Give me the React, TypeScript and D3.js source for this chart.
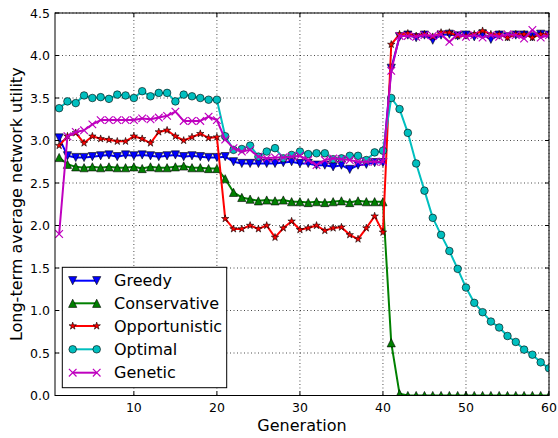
import React from "react";
import * as d3 from "d3";

const generations = d3.range(1, 61);

const greedy = [
  3.03,
  2.82, 2.80, 2.80, 2.81, 2.82, 2.83, 2.81, 2.83, 2.82, 2.83, 2.82, 2.81, 2.82, 2.83, 2.81, 2.82, 2.81, 2.80, 2.80,
  2.81, 2.75, 2.73, 2.73, 2.73, 2.73, 2.73, 2.74, 2.75, 2.73, 2.73, 2.71, 2.71, 2.69, 2.71, 2.66, 2.71, 2.72, 2.74, 2.74,
  3.85,
  4.22, 4.24, 4.21, 4.24, 4.18, 4.24, 4.25, 4.23, 4.24, 4.22, 4.25, 4.19, 4.24, 4.22, 4.24, 4.24, 4.22, 4.25, 4.24,
];

const conservative = [
  2.80,
  2.72, 2.69, 2.68, 2.69, 2.68, 2.69, 2.68, 2.68, 2.69, 2.67, 2.69, 2.68, 2.68, 2.69, 2.70, 2.68, 2.68, 2.67, 2.67,
  2.55, 2.39, 2.33, 2.31, 2.29, 2.30, 2.29, 2.30, 2.28, 2.28, 2.27, 2.28, 2.27, 2.28, 2.29, 2.27, 2.29, 2.28, 2.28, 2.28,
  0.62, 0.02,
  0, 0, 0, 0, 0, 0, 0, 0, 0, 0, 0, 0, 0, 0, 0, 0, 0, 0,
];

const opportunistic = [
  2.94, 3.05, 3.09, 2.97, 3.05, 3.02, 3.01, 2.99, 2.99, 3.05, 3.02, 2.97, 3.10, 3.12, 3.05, 3.00, 3.04, 3.08, 3.03, 3.04,
  2.08, 1.96, 1.96, 2.00, 1.96, 2.00, 1.86, 1.97, 2.05, 1.95, 1.97, 2.00, 1.94, 1.97, 1.98, 1.89, 1.84, 1.97, 2.11, 1.92,
  4.13,
  4.25, 4.26, 4.23, 4.25, 4.22, 4.27, 4.27, 4.23, 4.23, 4.25, 4.29, 4.25, 4.25, 4.21, 4.25, 4.25, 4.21, 4.25, 4.25,
];

const optimal = [
  3.38, 3.46, 3.44, 3.53, 3.50, 3.51, 3.49, 3.54, 3.53, 3.50, 3.58, 3.52, 3.56, 3.56, 3.46, 3.54, 3.52, 3.50, 3.48, 3.48,
  3.05, 2.89, 2.90, 2.94, 2.81, 2.87, 2.91, 2.79, 2.83, 2.87, 2.84, 2.85, 2.85, 2.78, 2.79, 2.82, 2.82, 2.77, 2.86, 2.88,
  3.50, 3.37, 3.09, 2.73, 2.41, 2.09, 1.89, 1.70, 1.49, 1.27, 1.09, 0.98, 0.87, 0.80, 0.70, 0.63, 0.54, 0.48, 0.39, 0.32,
];

const genetic = [
  1.90, 3.05, 3.10, 3.12, 3.19, 3.24, 3.24, 3.24, 3.24, 3.24, 3.26, 3.25, 3.27, 3.29, 3.34, 3.23, 3.23, 3.23, 3.28, 3.24,
  3.01, 2.91, 2.87, 2.89, 2.81, 2.79, 2.80, 2.80, 2.81, 2.82, 2.77, 2.71, 2.77, 2.79, 2.78, 2.77, 2.75, 2.75, 2.75, 2.75,
  3.82,
  4.23, 4.23, 4.22, 4.24, 4.23, 4.25, 4.16, 4.25, 4.22, 4.24, 4.21, 4.24, 4.22, 4.25, 4.24, 4.20, 4.30, 4.21, 4.24,
];

const seriesNames = ["Greedy", "Conservative", "Opportunistic", "Optimal", "Genetic"];
const seriesValues = [greedy, conservative, opportunistic, optimal, genetic];
const seriesColors = ["#0000ff", "#008000", "#ff0000", "#00bfbf", "#bf00bf"];
const seriesMarkers = ["tri-down", "tri-up", "star", "circle", "x"];

const xTicks = [10, 20, 30, 40, 50, 60];
const yTicks = [0, 0.5, 1, 1.5, 2, 2.5, 3, 3.5, 4, 4.5];

const W = 558;
const H = 438;
const L = 55, R = 549, T = 13, B = 395.5;
const FONT = "'DejaVu Sans', sans-serif";

function starPath(r: number) {
  const inner = r * 0.381966;
  const pts: string[] = [];
  for (let i = 0; i < 10; i++) {
    const rad = i % 2 === 0 ? r : inner;
    const a = -Math.PI / 2 + (i * Math.PI) / 5;
    pts.push(`${(rad * Math.cos(a)).toFixed(3)},${(rad * Math.sin(a)).toFixed(3)}`);
  }
  return "M" + pts.join("L") + "Z";
}

function Marker({ kind, x, y, color }: { kind: string; x: number; y: number; color: string }) {
  const t = `translate(${x},${y})`;
  if (kind === "circle") {
    return <circle cx={x} cy={y} r={3.8} fill={color} stroke="#000" strokeWidth={0.6} />;
  }
  if (kind === "tri-down") {
    const h = 4.1;
    return <path transform={t} d={`M0,${h}L${-h},${-h}L${h},${-h}Z`} fill={color} stroke="#000" strokeWidth={0.6} />;
  }
  if (kind === "tri-up") {
    const h = 4.1;
    return <path transform={t} d={`M0,${-h}L${-h},${h}L${h},${h}Z`} fill={color} stroke="#000" strokeWidth={0.6} />;
  }
  if (kind === "star") {
    return <path transform={t} d={starPath(3.9)} fill={color} stroke="#000" strokeWidth={0.6} />;
  }
  const s = 3.8;
  return (
    <path transform={t} d={`M${-s},${-s}L${s},${s}M${-s},${s}L${s},${-s}`} stroke={color} strokeWidth={1.2} fill="none" />
  );
}

export default function App() {
  const x = d3.scaleLinear().domain([0.5, 60]).range([L, R]);
  const y = d3.scaleLinear().domain([0, 4.5]).range([B, T]);
  const line = d3
    .line<number>()
    .x((_, i) => x(generations[i]))
    .y((d) => y(d));

  const legendRows = [280.7, 303.3, 326, 349.3, 372.7];

  return (
    <svg
      width={W}
      height={H}
      style={{ position: "absolute", left: 0, top: 0, background: "#fff" }}
      fontFamily={FONT}
    >
      <rect x={0} y={0} width={W} height={H} fill="#fff" />
      <defs>
        <clipPath id="plot">
          <rect x={L} y={T} width={R - L} height={B - T} />
        </clipPath>
      </defs>
      {/* grid */}
      <g stroke="#000" strokeWidth={0.7} strokeDasharray="1,2.5">
        {xTicks.map((t) => (
          <line key={"gx" + t} x1={x(t)} x2={x(t)} y1={T} y2={B} />
        ))}
        {yTicks.map((t) => (
          <line key={"gy" + t} x1={L} x2={R} y1={y(t)} y2={y(t)} />
        ))}
      </g>
      {/* series */}
      <g clipPath="url(#plot)">
        {seriesValues.map((vals, si) => (
          <g key={seriesNames[si]}>
            <path d={line(vals) || ""} fill="none" stroke={seriesColors[si]} strokeWidth={2} strokeLinejoin="round" />
            {vals.map((v, i) => (
              <Marker key={i} kind={seriesMarkers[si]} x={x(generations[i])} y={y(v)} color={seriesColors[si]} />
            ))}
          </g>
        ))}
      </g>
      {/* frame */}
      <rect x={L} y={T} width={R - L} height={B - T} fill="none" stroke="#000" strokeWidth={1} />
      {/* ticks */}
      <g stroke="#000" strokeWidth={1}>
        {xTicks.map((t) => (
          <g key={"tx" + t}>
            <line x1={x(t)} x2={x(t)} y1={B} y2={B - 4} />
            <line x1={x(t)} x2={x(t)} y1={T} y2={T + 4} />
          </g>
        ))}
        {yTicks.map((t) => (
          <g key={"ty" + t}>
            <line x1={L} x2={L + 4} y1={y(t)} y2={y(t)} />
            <line x1={R} x2={R - 4} y1={y(t)} y2={y(t)} />
          </g>
        ))}
      </g>
      {/* tick labels */}
      <g fontSize={12.5} fill="#000">
        {xTicks.map((t) => (
          <text key={"lx" + t} x={x(t)} y={412} textAnchor="middle">
            {t}
          </text>
        ))}
        {yTicks.map((t) => (
          <text key={"ly" + t} x={L - 5} y={y(t)} dy="0.36em" textAnchor="end">
            {t.toFixed(1)}
          </text>
        ))}
      </g>
      {/* axis labels */}
      <text x={(L + R) / 2} y={431} textAnchor="middle" fontSize={16} fill="#000">
        Generation
      </text>
      <text
        transform={`translate(22,${(T + B) / 2}) rotate(-90)`}
        textAnchor="middle"
        fontSize={16}
        fill="#000"
      >
        Long-term average network utility
      </text>
      {/* legend */}
      <g>
        <rect x={62.3} y={267.3} width={164.4} height={120.4} fill="#fff" stroke="#000" strokeWidth={1} />
        {seriesNames.map((name, si) => {
          const ry = legendRows[si];
          return (
            <g key={"leg" + name}>
              <line x1={72.7} x2={96.7} y1={ry} y2={ry} stroke={seriesColors[si]} strokeWidth={2} />
              <Marker kind={seriesMarkers[si]} x={72.7} y={ry} color={seriesColors[si]} />
              <Marker kind={seriesMarkers[si]} x={96.7} y={ry} color={seriesColors[si]} />
              <text x={114} y={ry} dy="0.36em" fontSize={16} fill="#000">
                {name}
              </text>
            </g>
          );
        })}
      </g>
    </svg>
  );
}
